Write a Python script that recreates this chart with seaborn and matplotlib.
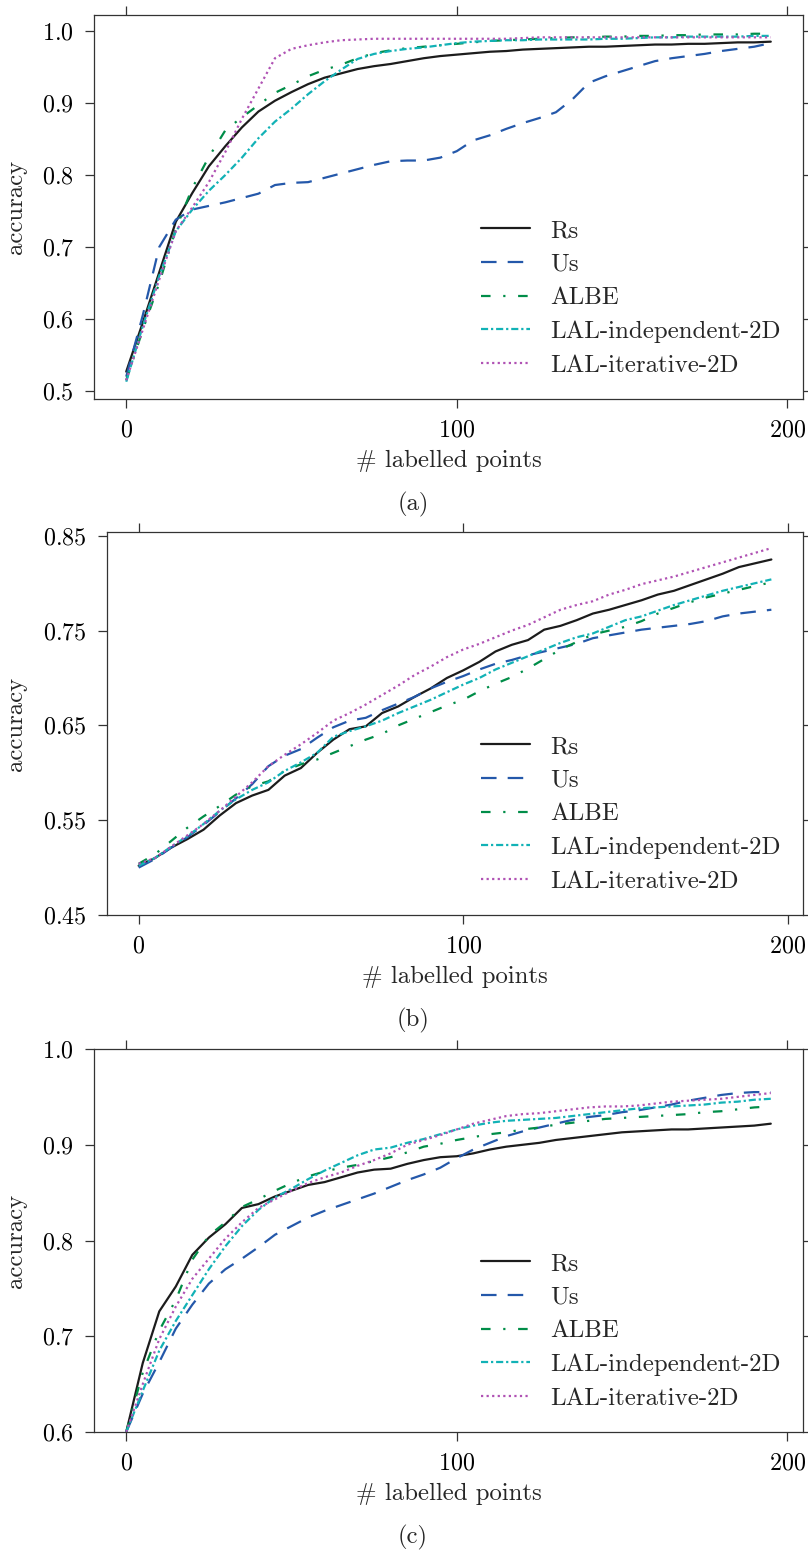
import matplotlib
matplotlib.use("Agg")
import matplotlib.pyplot as plt
import numpy as np
import pandas as pd
import seaborn as sns

# number of labelled points at which accuracy was recorded
n_labelled = list(range(0, 200, 5))

methods = ["Rs", "Us", "ALBE", "LAL-independent-2D", "LAL-iterative-2D"]

# ---- panel (a) ----
a_rs = [0.527, 0.595, 0.665, 0.735, 0.775, 0.812, 0.840, 0.866, 0.888, 0.903,
        0.915, 0.926, 0.935, 0.941, 0.947, 0.951, 0.954, 0.958, 0.962, 0.965,
        0.967, 0.969, 0.971, 0.972, 0.974, 0.975, 0.976, 0.977, 0.978, 0.978,
        0.979, 0.980, 0.981, 0.981, 0.982, 0.982, 0.983, 0.984, 0.984, 0.985]
a_us = [0.520, 0.605, 0.700, 0.738, 0.752, 0.757, 0.762, 0.768, 0.774, 0.786,
        0.789, 0.790, 0.796, 0.802, 0.808, 0.814, 0.819, 0.820, 0.820, 0.824,
        0.833, 0.848, 0.855, 0.864, 0.872, 0.879, 0.887, 0.905, 0.928, 0.937,
        0.944, 0.951, 0.958, 0.962, 0.965, 0.968, 0.972, 0.975, 0.978, 0.983]
a_albe = [0.515, 0.585, 0.650, 0.725, 0.782, 0.825, 0.862, 0.880, 0.897, 0.914,
          0.925, 0.937, 0.946, 0.953, 0.962, 0.969, 0.973, 0.976, 0.978, 0.980,
          0.982, 0.984, 0.986, 0.987, 0.988, 0.989, 0.990, 0.991, 0.991, 0.992,
          0.992, 0.993, 0.993, 0.994, 0.994, 0.995, 0.995, 0.995, 0.996, 0.996]
a_lal_ind = [0.513, 0.590, 0.660, 0.722, 0.752, 0.778, 0.800, 0.824, 0.851, 0.874,
             0.892, 0.912, 0.930, 0.946, 0.961, 0.968, 0.972, 0.975, 0.977, 0.980,
             0.983, 0.985, 0.986, 0.987, 0.987, 0.988, 0.988, 0.988, 0.988, 0.989,
             0.989, 0.990, 0.991, 0.991, 0.992, 0.992, 0.992, 0.992, 0.993, 0.993]
a_lal_iter = [0.515, 0.585, 0.655, 0.722, 0.755, 0.790, 0.832, 0.878, 0.920, 0.962,
              0.975, 0.980, 0.984, 0.987, 0.988, 0.989, 0.989, 0.989, 0.989, 0.989,
              0.989, 0.989, 0.989, 0.989, 0.990, 0.991, 0.991, 0.991, 0.991, 0.991,
              0.991, 0.991, 0.991, 0.991, 0.991, 0.991, 0.991, 0.991, 0.991, 0.991]

# ---- panel (b) ----
b_rs = [0.502, 0.510, 0.521, 0.530, 0.540, 0.555, 0.568, 0.576, 0.582, 0.597,
        0.605, 0.621, 0.635, 0.646, 0.649, 0.663, 0.670, 0.680, 0.689, 0.700,
        0.708, 0.717, 0.728, 0.735, 0.740, 0.751, 0.755, 0.761, 0.768, 0.772,
        0.777, 0.782, 0.788, 0.792, 0.798, 0.804, 0.810, 0.817, 0.821, 0.825]
b_us = [0.500, 0.509, 0.521, 0.532, 0.545, 0.559, 0.573, 0.588, 0.607, 0.618,
        0.625, 0.637, 0.648, 0.655, 0.658, 0.666, 0.673, 0.680, 0.689, 0.696,
        0.702, 0.709, 0.715, 0.719, 0.724, 0.728, 0.732, 0.736, 0.742, 0.745,
        0.748, 0.751, 0.753, 0.755, 0.757, 0.760, 0.765, 0.768, 0.770, 0.772]
b_albe = [0.504, 0.514, 0.528, 0.542, 0.554, 0.565, 0.577, 0.586, 0.591, 0.602,
          0.609, 0.614, 0.621, 0.628, 0.635, 0.641, 0.650, 0.657, 0.664, 0.671,
          0.677, 0.686, 0.694, 0.701, 0.710, 0.720, 0.730, 0.738, 0.746, 0.750,
          0.754, 0.760, 0.768, 0.774, 0.780, 0.785, 0.789, 0.793, 0.797, 0.801]
b_lal_ind = [0.502, 0.510, 0.522, 0.533, 0.546, 0.560, 0.572, 0.582, 0.590, 0.602,
             0.611, 0.621, 0.638, 0.644, 0.649, 0.655, 0.663, 0.670, 0.677, 0.685,
             0.693, 0.700, 0.709, 0.716, 0.723, 0.730, 0.737, 0.743, 0.747, 0.754,
             0.761, 0.765, 0.771, 0.777, 0.782, 0.787, 0.792, 0.796, 0.800, 0.804]
b_lal_iter = [0.504, 0.510, 0.522, 0.534, 0.546, 0.560, 0.575, 0.590, 0.607, 0.619,
              0.630, 0.642, 0.655, 0.663, 0.672, 0.682, 0.692, 0.703, 0.712, 0.722,
              0.730, 0.736, 0.743, 0.750, 0.756, 0.764, 0.772, 0.777, 0.781, 0.788,
              0.793, 0.799, 0.803, 0.807, 0.812, 0.817, 0.822, 0.827, 0.832, 0.837]

# ---- panel (c) ----
c_rs = [0.600, 0.672, 0.726, 0.752, 0.785, 0.803, 0.817, 0.834, 0.838, 0.846,
        0.852, 0.858, 0.861, 0.866, 0.871, 0.874, 0.875, 0.880, 0.884, 0.887,
        0.888, 0.891, 0.895, 0.898, 0.900, 0.902, 0.905, 0.907, 0.909, 0.911,
        0.913, 0.914, 0.915, 0.916, 0.916, 0.917, 0.918, 0.919, 0.920, 0.922]
c_us = [0.600, 0.640, 0.673, 0.708, 0.733, 0.755, 0.770, 0.781, 0.793, 0.806,
        0.815, 0.824, 0.831, 0.837, 0.843, 0.849, 0.856, 0.863, 0.869, 0.876,
        0.886, 0.895, 0.902, 0.909, 0.914, 0.918, 0.922, 0.926, 0.929, 0.931,
        0.934, 0.936, 0.939, 0.942, 0.946, 0.949, 0.952, 0.954, 0.955, 0.955]
c_albe = [0.600, 0.662, 0.706, 0.738, 0.780, 0.805, 0.819, 0.835, 0.843, 0.852,
          0.860, 0.867, 0.872, 0.876, 0.879, 0.883, 0.887, 0.892, 0.898, 0.901,
          0.905, 0.908, 0.911, 0.913, 0.916, 0.918, 0.921, 0.923, 0.925, 0.927,
          0.928, 0.929, 0.930, 0.931, 0.932, 0.934, 0.935, 0.937, 0.939, 0.940]
c_lal_ind = [0.600, 0.643, 0.685, 0.716, 0.743, 0.770, 0.794, 0.815, 0.832, 0.845,
             0.854, 0.864, 0.873, 0.881, 0.889, 0.895, 0.897, 0.902, 0.906, 0.911,
             0.916, 0.920, 0.923, 0.925, 0.926, 0.927, 0.928, 0.930, 0.932, 0.934,
             0.936, 0.938, 0.939, 0.940, 0.941, 0.942, 0.944, 0.945, 0.947, 0.948]
c_lal_iter = [0.600, 0.650, 0.697, 0.731, 0.760, 0.781, 0.802, 0.819, 0.834, 0.843,
              0.852, 0.860, 0.866, 0.871, 0.878, 0.884, 0.891, 0.900, 0.905, 0.910,
              0.916, 0.922, 0.926, 0.930, 0.932, 0.933, 0.935, 0.937, 0.939, 0.940,
              0.940, 0.941, 0.943, 0.945, 0.946, 0.947, 0.948, 0.950, 0.952, 0.954]

panels = [
    ("(a)", [a_rs, a_us, a_albe, a_lal_ind, a_lal_iter],
     [0.5, 0.6, 0.7, 0.8, 0.9, 1.0], (0.489, 1.022)),
    ("(b)", [b_rs, b_us, b_albe, b_lal_ind, b_lal_iter],
     [0.45, 0.55, 0.65, 0.75, 0.85], (0.45, 0.854)),
    ("(c)", [c_rs, c_us, c_albe, c_lal_ind, c_lal_iter],
     [0.6, 0.7, 0.8, 0.9, 1.0], (0.6, 1.0)),
]

palette = {
    "Rs": "#1c1c1c",
    "Us": "#2458aa",
    "ALBE": "#008d48",
    "LAL-independent-2D": "#12b2b6",
    "LAL-iterative-2D": "#b052b4",
}
dash_map = {
    "Rs": "",
    "Us": (7, 5),
    "ALBE": (4.3, 5.7, 1, 5.7),
    "LAL-independent-2D": (3.2, 1.3, 1, 1.3),
    "LAL-iterative-2D": (1, 1.5),
}

sns.set_style("ticks")
plt.rcParams.update({
    "font.family": "serif",
    "font.serif": ["cmr10"],
    "mathtext.fontset": "cm",
    "axes.formatter.use_mathtext": True,
    "axes.unicode_minus": False,
    "font.size": 17.5,
    "axes.edgecolor": "#333333",
    "axes.linewidth": 0.9,
    "xtick.color": "#333333",
    "ytick.color": "#333333",
    "xtick.labelcolor": "black",
    "ytick.labelcolor": "black",
})

W, H = 808, 1553
fig = plt.figure(figsize=(W / 100, H / 100), dpi=100)

# axes boxes in pixels: left, right, top, bottom
boxes = [(94, 803, 15, 399), (107, 803, 532, 915), (94, 803, 1049, 1432)]
caption_y = [504, 1020, 1537]

for (tag, series, yticks, ylim), (l, r, t, b), cy in zip(panels, boxes, caption_y):
    ax = fig.add_axes([l / W, 1 - b / H, (r - l) / W, (b - t) / H])
    df = pd.DataFrame({
        "n": np.tile(n_labelled, len(methods)),
        "acc": np.concatenate(series),
        "method": np.repeat(methods, len(n_labelled)),
    })
    sns.lineplot(data=df, x="n", y="acc", hue="method", style="method",
                 hue_order=methods, style_order=methods,
                 palette=palette, dashes=dash_map, linewidth=1.6, ax=ax)
    ax.set_xlim(-9.75, 204.75)
    ax.set_ylim(*ylim)
    ax.set_xticks([0, 100, 200])
    ax.set_yticks(yticks)
    ax.tick_params(direction="out", length=6.5, width=0.9, pad=8,
                   top=True, right=True,
                   labeltop=False, labelright=False, labelsize=17.3)
    ax.set_xlabel("# labelled points", fontsize=17.8, labelpad=6.5)
    ax.set_ylabel("accuracy", fontsize=17.8)
    ax.yaxis.set_label_coords((27 - l) / (r - l), 0.5)
    sns.move_legend(ax, "lower right", frameon=False, title=None,
                    fontsize=17.9, labelspacing=0.45, handlelength=2.0,
                    handletextpad=0.8)
    fig.text(413 / W, 1 - cy / H, tag, ha="center", va="center", fontsize=17.8)

fig.savefig("out.png", dpi=100)
